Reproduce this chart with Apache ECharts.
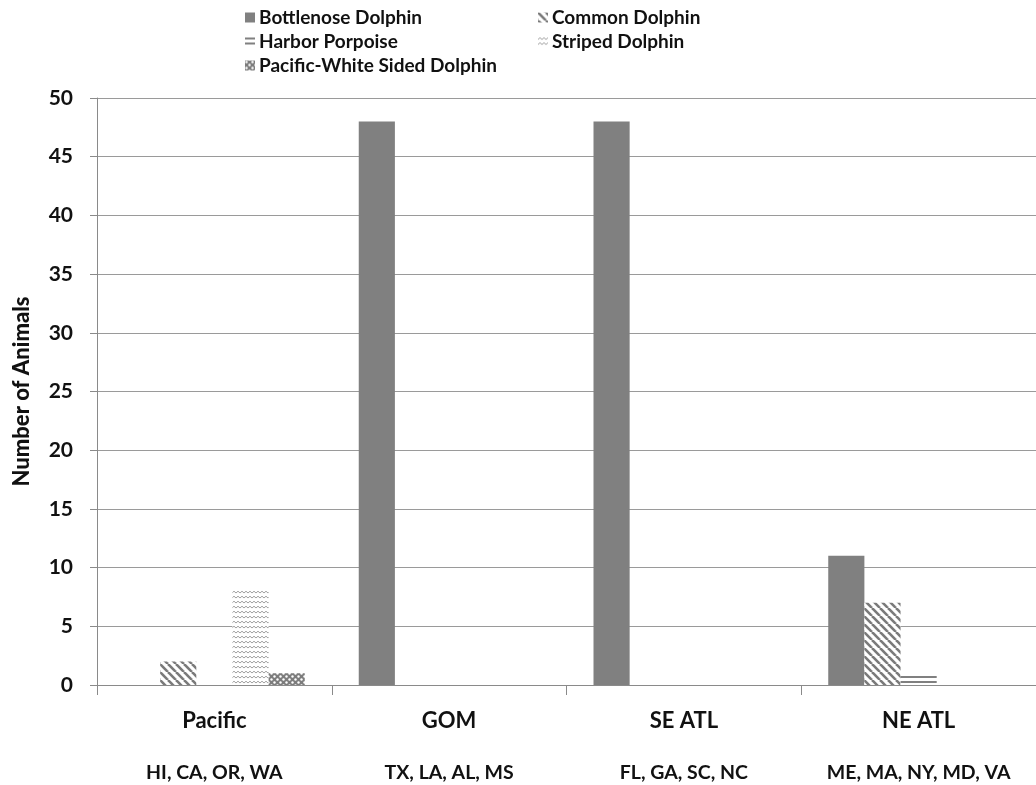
<!DOCTYPE html>
<html><head><meta charset="utf-8">
<script src="https://cdn.jsdelivr.net/npm/echarts@6/dist/echarts.min.js"></script>
<style>html,body{margin:0;padding:0;background:#fff}#c{width:1036px;height:785px}</style>
</head><body><div id="c"></div>
<script>
const categories = ['Pacific', 'GOM', 'SE ATL', 'NE ATL'];
const subLabels = ['HI, CA, OR, WA', 'TX, LA, AL, MS', 'FL, GA, SC, NC', 'ME, MA, NY, MD, VA'];
const seriesNames = ['Bottlenose Dolphin', 'Common Dolphin', 'Harbor Porpoise', 'Striped Dolphin', 'Pacific-White Sided Dolphin'];
const bottlenose = [0, 48, 48, 11];
const common = [2, 0, 0, 7];
const harbor = [0, 0, 0, 1];
const striped = [8, 0, 0, 0];
const pacificWhite = [1, 0, 0, 0];
const yMin = 0, yMax = 50, yInterval = 5;

function tile(w, h, draw) {
  const c = document.createElement('canvas');
  c.width = w; c.height = h;
  const g = c.getContext('2d');
  g.fillStyle = '#fff'; g.fillRect(0, 0, w, h);
  draw(g);
  return { image: c, repeat: 'repeat' };
}
const pCommon = tile(8, 8, g => {
  g.strokeStyle = '#7a7a7a'; g.lineWidth = 2.6;
  for (const k of [-8, 0, 8]) { g.beginPath(); g.moveTo(k, 0); g.lineTo(k + 8, 8); g.stroke(); }
});
const pHarbor = tile(4, 5, g => { g.fillStyle = '#808080'; g.fillRect(0, 1, 4, 2); });
const pStriped = tile(8, 5, g => {
  g.strokeStyle = '#a0a0a0'; g.lineWidth = 1;
  g.beginPath(); g.moveTo(0, 3); g.lineTo(2, 1.2); g.lineTo(4, 3); g.lineTo(6, 1.2); g.lineTo(8, 3); g.stroke();
});
const pPWS = tile(6, 6, g => {
  g.fillStyle = '#7c7c7c'; g.fillRect(0, 0, 6, 6);
  g.fillStyle = '#fff';
  g.beginPath(); g.arc(1.5, 1.5, 1.2, 0, Math.PI * 2); g.fill();
  g.beginPath(); g.arc(4.5, 4.5, 1.2, 0, Math.PI * 2); g.fill();
});
const colors = ['#808080', pCommon, pHarbor, pStriped, pPWS];
const values = [bottlenose, common, harbor, striped, pacificWhite];

const FONT = 'Lato';
const legendPos = [[240, 3], [533, 3], [240, 27], [533, 27], [240, 51]];
const legends = seriesNames.map((n, i) => ({
  data: [n], left: legendPos[i][0], top: legendPos[i][1],
  icon: 'rect', itemWidth: 10, itemHeight: 10, itemGap: 5,
  textStyle: { fontFamily: FONT, fontWeight: 700, fontSize: 19, color: '#111', padding: [0, 0, 0, -1] },
  selectedMode: false
}));

const chart = echarts.init(document.getElementById('c'), null, { renderer: 'canvas' });
chart.setOption({
  animation: false,
  backgroundColor: '#fff',
  legend: legends,
  grid: { left: 97, top: 98, width: 946, height: 587, containLabel: false },
  xAxis: {
    type: 'category', data: categories,
    axisLine: { lineStyle: { color: '#8a8a8a', width: 1 } },
    axisTick: { show: true, length: 10, lineStyle: { color: '#8a8a8a' } },
    axisLabel: {
      interval: 0, margin: 10,
      formatter: (v, i) => '{a|' + v + '}\n{b|' + subLabels[i] + '}',
      rich: {
        a: { fontFamily: FONT, fontWeight: 700, fontSize: 22, color: '#111', lineHeight: 52 },
        b: { fontFamily: FONT, fontWeight: 700, fontSize: 19.5, color: '#111', lineHeight: 52 }
      }
    }
  },
  yAxis: {
    type: 'value', min: yMin, max: yMax, interval: yInterval,
    name: 'Number of Animals', nameLocation: 'middle', nameGap: 64,
    nameTextStyle: { fontFamily: FONT, fontWeight: 900, fontSize: 22, color: '#111' },
    axisLine: { show: true, lineStyle: { color: '#8a8a8a' } },
    axisTick: { show: true, length: 7, lineStyle: { color: '#8a8a8a' } },
    axisLabel: { margin: 24, fontFamily: FONT, fontWeight: 700, fontSize: 21, color: '#111' },
    splitLine: { lineStyle: { color: '#9a9a9a', width: 1.2 } }
  },
  series: seriesNames.map((n, i) => ({
    name: n, type: 'bar', data: values[i],
    barGap: '0%', barCategoryGap: '23%',
    itemStyle: { color: colors[i] }
  }))
});
</script></body></html>
